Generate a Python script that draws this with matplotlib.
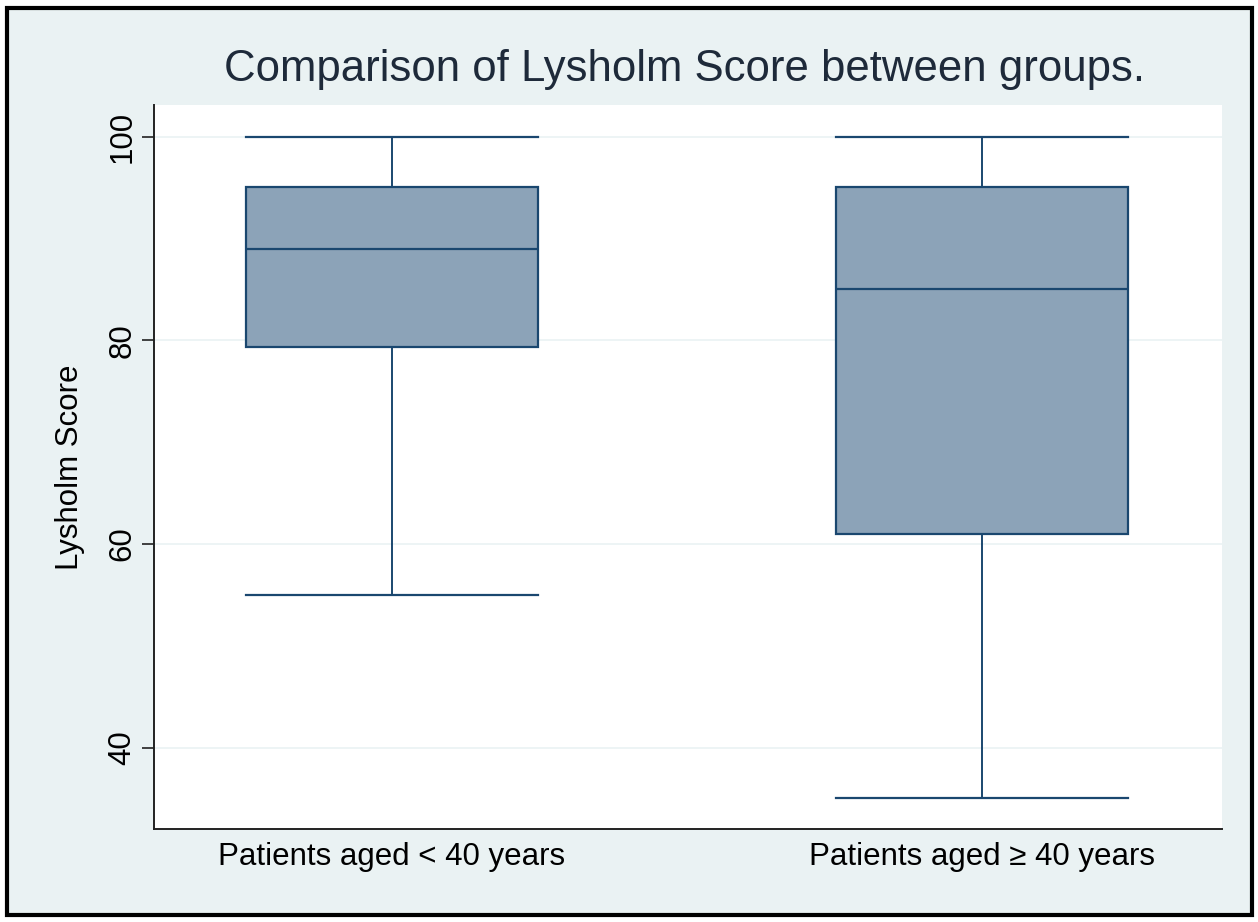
import matplotlib
matplotlib.use('Agg')
import matplotlib.pyplot as plt
from matplotlib.patches import Rectangle

# Box plot summary values
groups = ['Patients aged < 40 years', 'Patients aged \u2265 40 years']
whisker_low = [55, 35]
q1 = [79.3, 61]
median = [89, 85]
q3 = [95, 95]
whisker_high = [100, 100]
yticks = [40, 60, 80, 100]

navy = '#1a476f'
bg = '#eaf2f3'
box_fill = '#8ca3b8'

plt.rcParams['font.family'] = ['Liberation Sans', 'DejaVu Sans']

fig = plt.figure(figsize=(12.58, 9.22), dpi=100)
fig.patch.set_facecolor('white')
# outer frame with the light blue graph region
fig.patches.append(Rectangle((7 / 1258, 7 / 922), 1245 / 1258, 907 / 922,
                             transform=fig.transFigure, facecolor=bg,
                             edgecolor='black', linewidth=3, zorder=-10))

ax = fig.add_axes([154 / 1258, 1 - 829 / 922, (1222 - 154) / 1258, (829 - 105) / 922])
ax.set_facecolor('white')

stats = []
for i, g in enumerate(groups):
    stats.append({'label': g, 'whislo': whisker_low[i], 'q1': q1[i], 'med': median[i],
                  'q3': q3[i], 'whishi': whisker_high[i], 'fliers': []})

ax.bxp(stats, positions=[1, 2], widths=0.495, showfliers=False, patch_artist=True,
       boxprops=dict(facecolor=box_fill, edgecolor=navy, linewidth=1.6),
       medianprops=dict(color=navy, linewidth=1.6),
       whiskerprops=dict(color=navy, linewidth=1.4),
       capprops=dict(color=navy, linewidth=1.6),
       capwidths=0.495, zorder=3)

ax.set_xlim(0.597, 2.407)
ax.set_ylim(32.0, 103.1)
ax.set_yticks(yticks)
ax.set_yticklabels([str(t) for t in yticks], rotation=90, va='center', fontsize=22.5)
ax.tick_params(axis='y', direction='out', length=9, width=1.2, color='#222222', pad=3)
ax.tick_params(axis='x', length=0, labelsize=22.5, pad=9)
ax.grid(axis='y', color=bg, linewidth=1.2, zorder=0)
ax.set_axisbelow(True)

for s in ['top', 'right']:
    ax.spines[s].set_visible(False)
for s in ['left', 'bottom']:
    ax.spines[s].set_color('#222222')
    ax.spines[s].set_linewidth(1.4)

ax.set_ylabel('Lysholm Score', fontsize=22.5, labelpad=16)
fig.text(685 / 1258, 1 - 70 / 922, 'Comparison of Lysholm Score between groups.',
         ha='center', va='center', fontsize=31.5, color='#1e2a3a')

fig.savefig('out.png', dpi=100)
